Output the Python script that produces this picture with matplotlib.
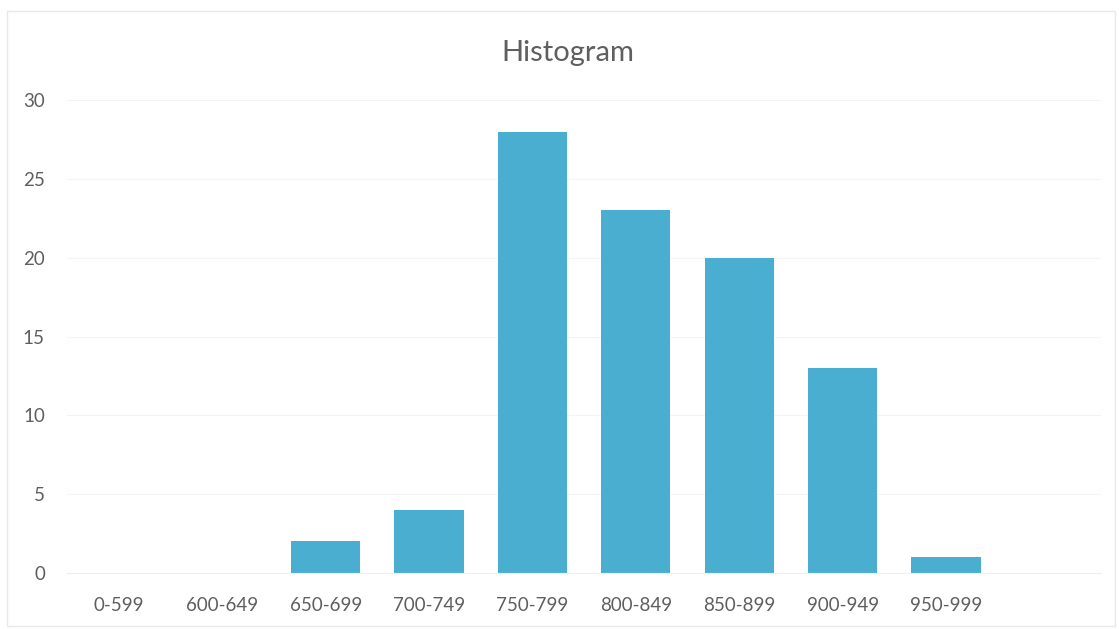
import matplotlib.pyplot as plt
from matplotlib.patches import Rectangle

# score bins and counts
bins = ['0-599', '600-649', '650-699', '700-749', '750-799', '800-849',
        '850-899', '900-949', '950-999', '']
counts = [0, 0, 2, 4, 28, 23, 20, 13, 1, 0]

plt.rcParams['font.family'] = ['Lato', 'DejaVu Sans']
text_col = '#5f5f5f'
bar_col = '#4aaed1'

fig = plt.figure(figsize=(11.19, 6.29), dpi=100)
ax = fig.add_axes([0.060, 0.089, 0.924, 0.752])

x = range(len(bins))
ax.bar(x, counts, width=0.67, color=bar_col, zorder=2)

ax.set_xlim(-0.5, len(bins) - 0.5)
ax.set_ylim(0, 30)
ax.set_yticks(range(0, 31, 5))
ax.set_xticks(list(x))
ax.set_xticklabels(bins)
ax.grid(axis='y', color='#f4f4f4', linewidth=0.8, zorder=0)
ax.tick_params(length=0, labelsize=13.5, colors=text_col)
ax.tick_params(axis='x', pad=17)
ax.tick_params(axis='y', pad=16)
for s in ax.spines.values():
    s.set_visible(False)
ax.spines['bottom'].set_visible(True)
ax.spines['bottom'].set_color('#efefef')

fig.text(0.507, 0.915, 'Histogram', ha='center', va='center',
         fontsize=21, color=text_col)

# faint chart border
fig.patches.append(Rectangle((0.006, 0.004), 0.99, 0.978, transform=fig.transFigure,
                             fill=False, edgecolor='#e8e8e8', linewidth=1))

fig.savefig('out.png', dpi=100)
